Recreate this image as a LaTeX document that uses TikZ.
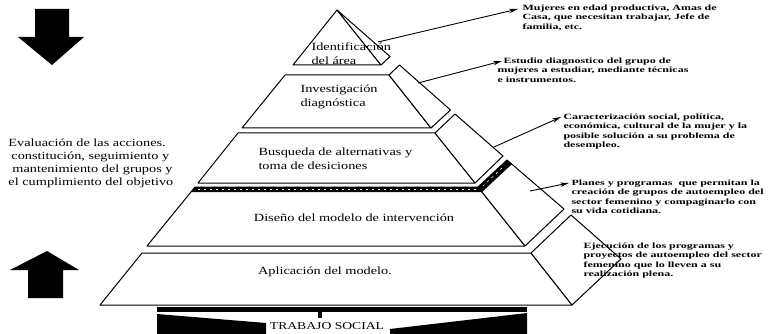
\documentclass[tikz,border=0pt]{standalone}
\usepackage{fontspec}
\setmainfont{Liberation Serif}[FakeStretch=1.3]
\newfontfamily\sidefont{Liberation Serif}[FakeStretch=1.5]
\usetikzlibrary{arrows.meta,calc}
\tikzset{every picture/.style={line width=1pt}}
\tikzset{
  face/.style={draw=black, fill=white, line join=round},
  band/.style={fill=black},
  leveltext/.style={font=\fontsize{11}{14}\selectfont, align=left},
  sidetext/.style={font=\sidefont\bfseries\fontsize{8}{9.6}\selectfont, align=left, anchor=north west},
  evaltext/.style={font=\fontsize{11}{13}\selectfont, align=left, anchor=north west},
  pointer/.style={-{Stealth[length=9pt,width=4.5pt]}, line width=0.9pt}
}
\begin{document}
\begin{tikzpicture}[x=1pt,y=-1pt]
\tikzstyle{every node}+=[inner sep=0pt]
\useasboundingbox (0,0) rectangle (768,334);
\fill [black] (35,9) -- (69,9) -- (69,37) -- (84,37) -- (52,65) -- (18,37) -- (35,37) -- cycle;
\fill [black] (28,298) -- (63,298) -- (63,270) -- (79,270) -- (47,251) -- (10,270) -- (28,270) -- cycle;
\draw [face] (337,10) -- (293,65) -- (381,65) -- cycle;
\draw [face] (337,10) -- (381,65) -- (390,56.5) -- cycle;
\draw [face] (285,75) -- (389,75) -- (431,128) -- (242,128) -- cycle;
\draw [face] (389,75) -- (399.5,65) -- (450.5,110) -- (431,128) -- cycle;
\draw [face] (238,133) -- (435,133) -- (475,183) -- (198,183) -- cycle;
\draw [face] (435,133) -- (455,114) -- (503,156) -- (475,183) -- cycle;
\draw [face] (195,187) -- (478,187) -- (525,246) -- (147,246) -- cycle;
\draw [face] (478,187) -- (507,160) -- (564,209) -- (525,246) -- cycle;
\fill [band] (195,187) -- (478,187) -- (482,192) -- (191,192) -- cycle;
\fill [band] (478,187) -- (507,160) -- (512,164) -- (482,192) -- cycle;
\draw [white, line width=0.6pt, dash pattern=on 2pt off 4pt] (198,189.5) -- (476,189.5);
\draw [white, line width=0.6pt, dash pattern=on 2pt off 4pt] (483,186) -- (505,165);
\draw [face] (142,253) -- (531,253) -- (572,305) -- (100,305) -- cycle;
\draw [face] (531,253) -- (571,215) -- (621,259) -- (572,305) -- cycle;
\fill [black] (157,307) rectangle (527,312);
\fill [black] (318,312) rectangle (322,318);
\fill [black] (157,314) -- (266,323) -- (266,334) -- (157,334) -- cycle;
\fill [black] (390,329) -- (527,313) -- (527,334) -- (390,334) -- cycle;
\node [leveltext, anchor=west] (identificacion) at (311,54) {Identificación\\del área};
\node [leveltext, anchor=west] (investigacion) at (300,97) {Investigación\\diagnóstica};
\node [leveltext, anchor=west] (busqueda) at (258,159) {Busqueda de alternativas y\\toma de desiciones};
\node [leveltext] (diseno) at (354,218) {Diseño del modelo de intervención};
\node [leveltext] (aplicacion) at (325,272) {Aplicación del modelo.};
\node [font=\fontsize{10.5}{12}\selectfont] (trabajo) at (327,326) {TRABAJO SOCIAL};
\node [evaltext] (evaluacion) at (8,138) {Evaluación de las acciones.\\\hspace*{3pt}constitución, seguimiento y\\\hspace*{4pt}mantenimiento del grupos y\\el cumplimiento del objetivo};
\node [sidetext] (mujeres) at (522,4) {Mujeres en edad productiva, Amas de\\Casa, que necesitan trabajar, Jefe de\\familia, etc.};
\node [sidetext] (estudio) at (497,57) {\hspace*{6pt}Estudio diagnostico del grupo de\\mujeres a estudiar, mediante técnicas\\e instrumentos.};
\node [sidetext] (caracterizacion) at (563,113) {Caracterización social, política,\\económica, cultural de la mujer y la\\posible solución a su problema de\\desempleo.};
\node [sidetext] (planes) at (571,179) {Planes y programas\ \ que permitan la\\creación de grupos de autoempleo del\\sector femenino y compaginarlo con\\su vida cotidiana.};
\node [sidetext] (ejecucion) at (583,242) {Ejecución de los programas y\\proyectos de autoempleo del sector\\femenino que lo lleven a su\\realización plena.};
\coordinate (s1) at (378,42);
\coordinate (s2) at (418,83);
\coordinate (s3) at (494,147);
\coordinate (s4) at (530,191);
\draw [pointer] (s1) -- ($(mujeres.north west)+(-4,5)$);
\draw [pointer] (s2) -- ($(estudio.north west)+(5,4)$);
\draw [pointer] (s3) -- ($(caracterizacion.north west)+(-2,4)$);
\draw [pointer] (s4) -- ($(planes.north west)+(-2,4)$);
\end{tikzpicture}
\end{document}
